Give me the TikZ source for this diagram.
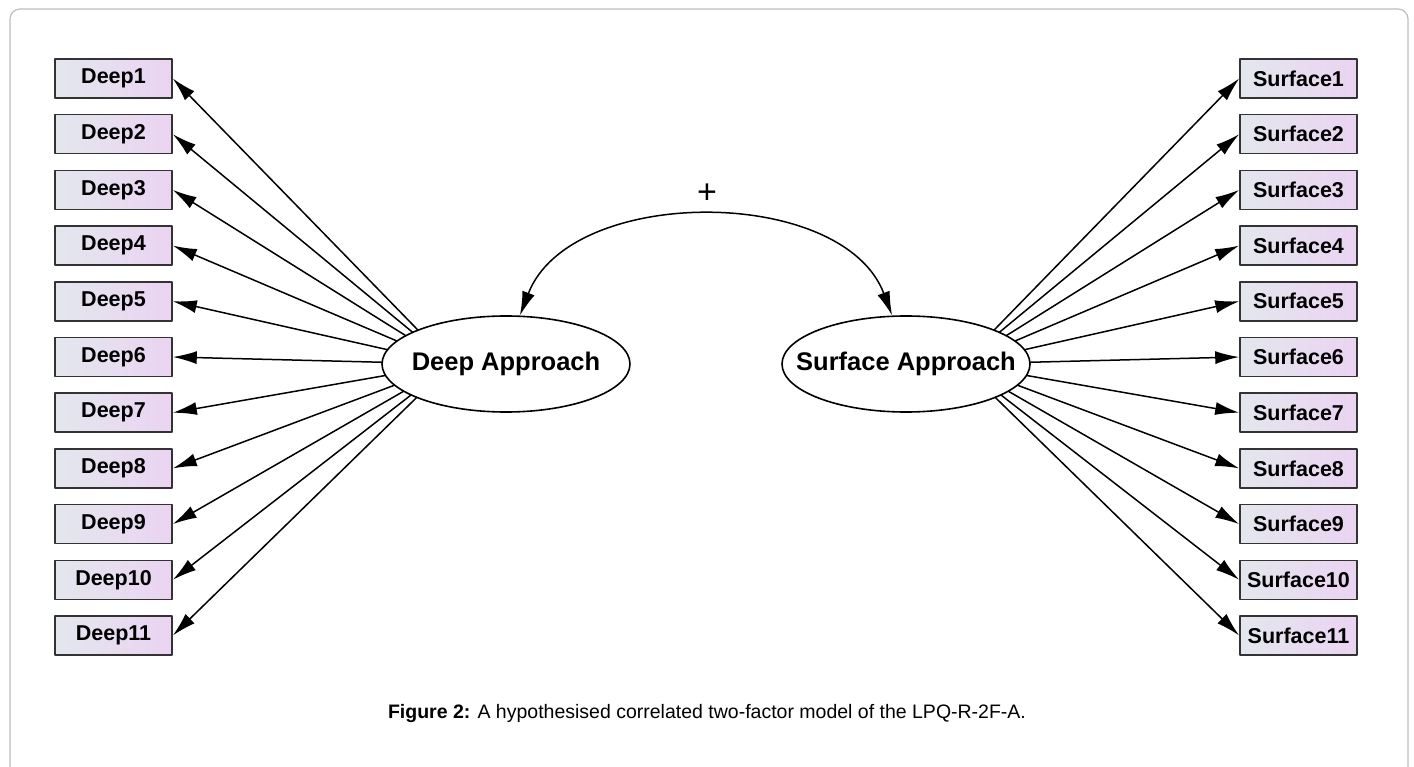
\documentclass[tikz,border=0pt]{standalone}
\usepackage{fontspec}
\setmainfont{Liberation Sans}
\usetikzlibrary{arrows.meta,shapes.geometric}
\definecolor{boxleft}{HTML}{E3E7ED}
\definecolor{boxright}{HTML}{EBD3F2}
\definecolor{framegray}{HTML}{BDBDBD}

\tikzset{
	indicator/.style={draw=black!80,line width=1.6pt,left color=boxleft,right color=boxright,
		minimum width=117pt,minimum height=39pt,inner sep=0pt,font=\fontsize{21.5}{24}\selectfont\bfseries},
	factor/.style={ellipse,draw,fill=white,line width=1.6pt,minimum width=248pt,minimum height=96pt,
		inner sep=0pt,font=\fontsize{25.5}{28}\selectfont\bfseries},
	load/.style={line width=1.5pt,-{Latex[length=24pt,width=13pt]}}
}

\begin{document}
\begin{tikzpicture}[line cap=round,line join=round,x=1pt,y=-1pt]
		\useasboundingbox (0,0) rectangle (1414,767);
		\clip (0,0) rectangle (1414,767);
		%\draw[help lines] (0,0) grid[step=100] (1414,767);
		\draw[framegray,line width=1.2pt,rounded corners=10pt] (10,800) -- (10,9) -- (1408,9) -- (1408,800);
		\coordinate (dsrc) at (451,364);
		\coordinate (ssrc) at (961,364);
		\foreach \i in {1,...,11}
		{
		\node[indicator] (d\i) at (113.5,{78.5+55.7*(\i-1)}) {Deep\i};
		\node[indicator] (s\i) at (1298.5,{78.5+55.7*(\i-1)}) {Surface\i};
		\draw[load] (dsrc) -- (d\i.east);
		\draw[load] (ssrc) -- (s\i.west);
		}
		\node[factor] (deep) at (506,364) {\makebox[0pt]{Deep Approach}};
		\node[factor] (surf) at (906,364) {\makebox[0pt]{Surface Approach}};
		\draw[line width=1.5pt,{Latex[length=24pt,width=13pt]}-{Latex[length=24pt,width=13pt]}] (deep.74) .. controls (570,185) and (843,185) .. (surf.106);
		\node[font=\fontsize{34}{36}\selectfont] (plus) at (707,194) {+};
		\node[font=\fontsize{19.5}{22}\selectfont] (caption) at (707,713) {\textbf{Figure 2:} A hypothesised correlated two-factor model of the LPQ-R-2F-A.};
		
		\end{tikzpicture}
\end{document}
